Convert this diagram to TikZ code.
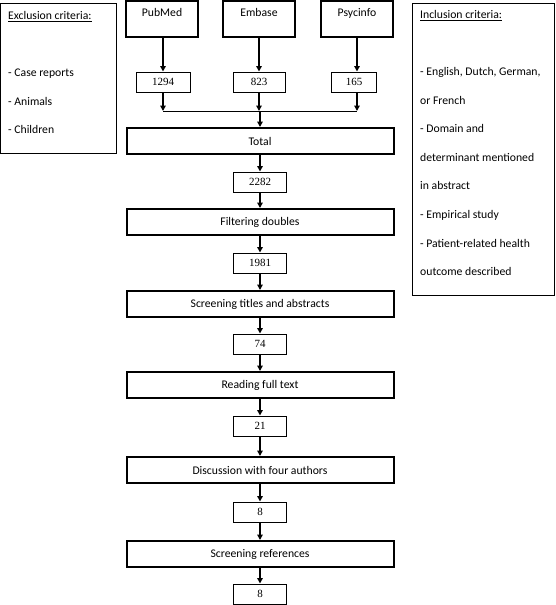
\documentclass[tikz,border=0pt]{standalone}
\usepackage{fontspec}
\setmainfont{Carlito}
\newfontfamily\numfont{Liberation Serif}
\usetikzlibrary{arrows.meta}
\begin{document}
\begin{tikzpicture}[x=1pt,y=-1pt,
  lab/.style={font=\fontsize{11.7}{14}\selectfont},
  srcbox/.style={lab,draw,line width=2pt,minimum width=72pt,minimum height=36pt,inner sep=0pt,text height=8pt,text depth=13pt},
  bigbox/.style={lab,draw,line width=2pt,minimum width=267pt,minimum height=26pt,inner sep=0pt},
  numbox/.style={draw,line width=1pt,minimum width=53pt,minimum height=20pt,inner sep=0pt,font=\numfont\fontsize{11}{13}\selectfont},
  critbox/.style={draw,line width=1pt,inner sep=0pt},
  crittext/.style={lab,align=left,inner sep=0pt,anchor=north west,font=\fontsize{11.7}{28.6}\selectfont},
  arr/.style={line width=1.5pt,-{Triangle[length=5.5pt,width=5.5pt]}},
  joinline/.style={line width=0.8pt}
]
\useasboundingbox (0,0) rectangle (555,605);

% criteria boxes
\node[critbox,minimum width=116pt,minimum height=150pt] (excl) at (58,78) {};
\node[crittext] (excltext) at (8,11) {\underline{Exclusion criteria:}\\ \\- Case reports\\- Animals\\- Children};
\node[critbox,minimum width=142pt,minimum height=292pt] (incl) at (483,149) {};
\node[crittext] (incltext) at (420,10) {\underline{Inclusion criteria:}\\ \\- English, Dutch, German,\\or French\\- Domain and\\determinant mentioned\\in abstract\\- Empirical study\\- Patient-related health\\outcome described};

% sources
\node[srcbox] (pubmed) at (162,19) {PubMed};
\node[srcbox] (embase) at (259,19) {Embase};
\node[srcbox] (psyc) at (357,19) {Psycinfo};

\node[numbox,minimum width=54pt] (n1294) at (163,82) {1294};
\node[numbox,minimum width=52pt] (n823) at (259,82) {823};
\node[numbox,minimum width=45pt] (n165) at (354,82) {165};

\draw[arr] (pubmed.south -| n1294.north) -- (n1294.north);
\draw[arr] (embase.south) -- (n823.north);
\draw[arr] (psyc.south) -- (psyc.south |- n165.north);

\coordinate (j1) at (163,111);
\coordinate (j2) at (259,111);
\coordinate (j3) at (357,111);
\draw[joinline] (j1) -- (j3);
\draw[arr] (n1294.south) -- (j1);
\draw[arr] (n823.south) -- (j2);
\draw[arr] (n165.south -| j3) -- (j3);

% main column
\node[bigbox] (total) at (260,141) {Total};
\node[numbox] (n2282) at (260,182) {2282};
\node[bigbox] (filter) at (260,222) {Filtering doubles};
\node[numbox] (n1981) at (260,263) {1981};
\node[bigbox] (screen) at (260,304) {Screening titles and abstracts};
\node[numbox] (n74) at (260,344) {74};
\node[bigbox] (read) at (260,385) {Reading full text};
\node[numbox] (n21) at (260,426) {21};
\node[bigbox] (disc) at (260,470) {Discussion with four authors};
\node[numbox] (n8a) at (260,512) {8};
\node[bigbox] (refs) at (260,554) {Screening references};
\node[numbox] (n8b) at (260,594) {8};

\coordinate (j0) at (260,111);
\draw[arr] (j0) -- (total.north);
\draw[arr] (total) -- (n2282);
\draw[arr] (n2282) -- (filter);
\draw[arr] (filter) -- (n1981);
\draw[arr] (n1981) -- (screen);
\draw[arr] (screen) -- (n74);
\draw[arr] (n74) -- (read);
\draw[arr] (read) -- (n21);
\draw[arr] (n21) -- (disc);
\draw[arr] (disc) -- (n8a);
\draw[arr] (n8a) -- (refs);
\draw[arr] (refs) -- (n8b);
\end{tikzpicture}
\end{document}
